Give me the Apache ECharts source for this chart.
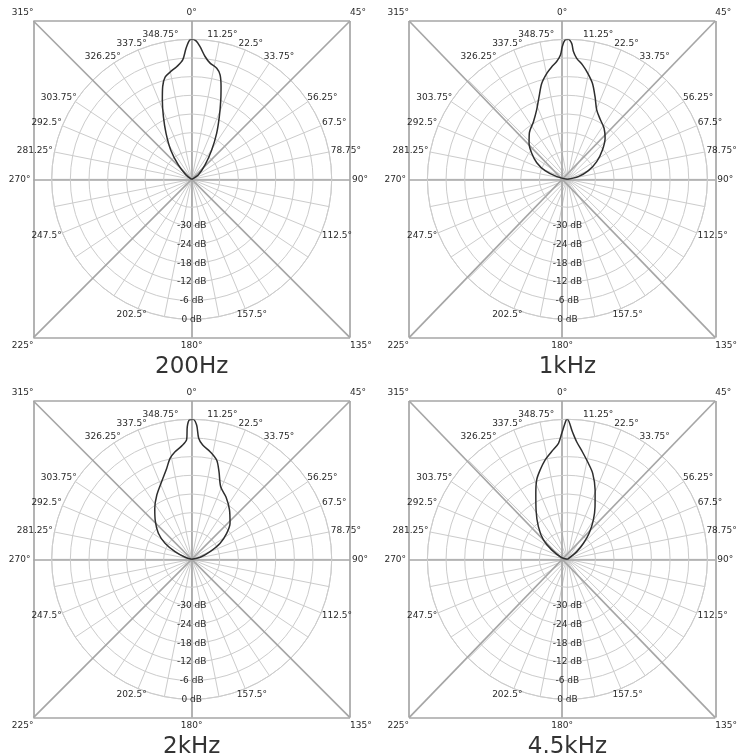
<!DOCTYPE html>
<html><head><meta charset="utf-8">
<script src="https://cdn.jsdelivr.net/npm/echarts@6/dist/echarts.min.js"></script>
<style>html,body{margin:0;padding:0;background:#fff}#c{width:740px;height:755px}</style>
</head><body><div id="c"></div><script>
// ---- data ----
const panelTitles = ['200Hz', '1kHz', '2kHz', '4.5kHz'];
const ringDb = [-36, -30, -24, -18, -12, -6, 0];
const dbLabelValues = [-30, -24, -18, -12, -6, 0];
const angleLabelValues = [11.25, 22.5, 33.75, 56.25, 67.5, 78.75, 112.5, 157.5, 202.5, 247.5, 281.25, 292.5, 303.75, 326.25, 337.5, 348.75];
const squareTopLabels = ['315°', '0°', '45°'];
const squareBottomLabels = ['225°', '180°', '135°'];
const squareLeftLabel = '270°';
const squareRightLabel = '90°';
const diagonalA = [[-1, -1], [1, 1]];
const diagonalB = [[-1, 1], [1, -1]];

const angles200 = [290, 307.4, 317, 324.4, 330.8, 335.7, 339.7, 342.6, 345.4, 349.6, 352.4, 355.7, 357.5, 359, 0, 1.8, 3.6, 6.2, 9.0, 12.7, 15.2, 17.6, 20.1, 23.8, 28.5, 34.3, 42.9, 57, 70];
const db200 = [-45, -42.7, -38.7, -33.4, -28.1, -22.9, -17.8, -13.8, -11.1, -9.5, -8.5, -6.5, -2.9, -0.4, 0, -0.5, -2.3, -5.3, -7.2, -8.4, -10.2, -13.8, -17.8, -23.0, -28.2, -33.6, -38.7, -42.5, -45];

const angles1k = [270, 284, 291.2, 298.5, 306.1, 313.2, 320.4, 329.5, 336.1, 341.1, 345, 349, 352.1, 354.8, 356.8, 357.8, 359, 0.3, 1.8, 2.7, 4.4, 7.5, 10.9, 14.6, 18.5, 22.9, 28.6, 35.7, 42.6, 50.0, 58.9, 67.6, 76.4, 90];
const db1k = [-45, -41.5, -37.3, -33.8, -30.8, -28.1, -25.8, -23.5, -20.6, -16.9, -13.1, -10.3, -8.5, -7.0, -5.0, -2.3, -0.2, 0, -1.3, -3.9, -6.0, -7.9, -10.3, -13.1, -17.0, -20.8, -23.0, -24.8, -27.1, -30.3, -34.0, -37.7, -41.4, -45];

const angles2k = [270, 287, 294.7, 301, 308, 316, 324, 331.5, 338.9, 344.6, 347.9, 351.2, 355, 357.6, 358.1, 359, 0.5, 2.1, 3.3, 5.5, 9.7, 14.1, 17.3, 21.8, 29, 37.4, 46.8, 53.4, 60.5, 67.3, 76.5, 90];
const db2k = [-45, -42.8, -39.1, -35.0, -31.4, -28.2, -24.8, -21.5, -18.2, -14.7, -11.8, -10.0, -8.4, -6.4, -2.3, -0.2, 0, -1.8, -6.0, -8.1, -9.9, -12.1, -15.5, -19.9, -22.2, -25.0, -28.1, -31.0, -34.5, -38.6, -42.2, -45];

const angles4k5 = [270, 286.4, 300.8, 308.9, 318.4, 327.6, 334.4, 338.9, 343, 347.3, 351.7, 355.6, 357.4, 359.5, 0, 2.2, 4.5, 7.9, 12.3, 16.4, 21.8, 27.7, 33.5, 39.8, 45, 50.6, 70];
const db4k5 = [-45, -43.1, -39.1, -35.1, -30.95, -26.2, -21.5, -17.6, -15.0, -12.3, -10.0, -7.6, -4.5, -0.2, 0, -3.9, -7.1, -10.1, -13.4, -16.2, -21.0, -25.9, -29.9, -34.1, -37.7, -41.1, -45];

const curves = [[angles200, db200], [angles1k, db1k], [angles2k, db2k], [angles4k5, db4k5]];

// ---- layout / style ----
const centers = [[191.7, 179.3], [567.4, 179.3], [191.7, 559.3], [567.4, 559.3]];
const R = 140, HALF = 158.3, DB_MIN = -45;
const FONT = 'DejaVu Sans';
const thin = { color: '#cccccc', width: 1 };
const thick = { color: '#a6a6a6', width: 1.7 };
const lab = { fontSize: 9, color: '#2a2a2a', fontFamily: FONT };

// angle labels: placed just outside the outer ring, offset by half the label box
const ctx = document.createElement('canvas').getContext('2d');
ctx.font = '9px ' + FONT;
function angleLabelItem(a) {
  const text = a + '°';
  const w = ctx.measureText(text).width;
  const t = a * Math.PI / 180;
  const s = Math.sin(t), c = Math.cos(t);
  const px = s * (R + w / 2 + 2), py = c * (R + 7);
  const d = Math.hypot(px, py);
  const ang = Math.atan2(px, py) * 180 / Math.PI;
  return { name: text, value: [DB_MIN + (-DB_MIN) * d / R, ang] };
}

const option = {
  animation: false,
  backgroundColor: '#fff',
  title: panelTitles.map((t, i) => ({
    text: t, left: centers[i][0], top: centers[i][1] + HALF + 18, textAlign: 'center', padding: 0,
    textStyle: { fontSize: 23, fontWeight: 'normal', color: '#333', fontFamily: FONT }
  })),
  polar: centers.map(c => ({ center: c, radius: R })),
  angleAxis: centers.map((c, i) => ({
    polarIndex: i, type: 'value', min: -180, max: 180, interval: 11.25, startAngle: -90, clockwise: true,
    axisLine: { show: true, lineStyle: thin }, axisTick: { show: false },
    splitLine: { show: true, lineStyle: thin },
    axisLabel: { show: false },
    z: 0
  })),
  radiusAxis: centers.map((c, i) => ({
    polarIndex: i, type: 'value', min: DB_MIN, max: 0,
    axisLine: { show: false }, axisTick: { show: false, customValues: ringDb },
    splitLine: { show: true, lineStyle: thin },
    axisLabel: Object.assign({ customValues: dbLabelValues, formatter: v => v + ' dB', margin: 0, align: 'center', verticalAlign: 'middle' }, lab),
    z: 1
  })),
  grid: centers.map(c => ({ left: c[0] - HALF, top: c[1] - HALF, width: 2 * HALF, height: 2 * HALF, show: false })),
  xAxis: centers.flatMap((c, i) => [
    { gridIndex: i, type: 'value', min: -1, max: 1, interval: 1, position: 'top', axisLine: { show: false }, axisTick: { show: false },
      splitLine: { show: true, lineStyle: thick },
      axisLabel: Object.assign({ margin: 4, formatter: v => squareTopLabels[v + 1], alignMinLabel: 'right', alignMaxLabel: 'left' }, lab), z: 0 },
    { gridIndex: i, type: 'value', min: -1, max: 1, interval: 1, position: 'bottom', axisLine: { show: false }, axisTick: { show: false },
      splitLine: { show: false },
      axisLabel: Object.assign({ margin: 4, formatter: v => squareBottomLabels[v + 1], alignMinLabel: 'right', alignMaxLabel: 'left' }, lab), z: 0 }
  ]),
  yAxis: centers.flatMap((c, i) => [
    { gridIndex: i, type: 'value', min: -1, max: 1, interval: 1, position: 'left', axisLine: { show: false }, axisTick: { show: false },
      splitLine: { show: true, lineStyle: thick },
      axisLabel: Object.assign({ margin: 3, formatter: v => v === 0 ? squareLeftLabel : '' }, lab), z: 0 },
    { gridIndex: i, type: 'value', min: -1, max: 1, interval: 1, position: 'right', axisLine: { show: false }, axisTick: { show: false },
      splitLine: { show: false },
      axisLabel: Object.assign({ margin: 2, formatter: v => v === 0 ? squareRightLabel : '' }, lab), z: 0 }
  ]),
  series: [
    ...centers.flatMap((c, i) => [diagonalA, diagonalB].map(d => ({
      type: 'line', xAxisIndex: 2 * i, yAxisIndex: 2 * i, data: d, showSymbol: false, symbol: 'none',
      lineStyle: thick, silent: true, z: 1
    }))),
    ...centers.map((c, i) => ({
      type: 'scatter', coordinateSystem: 'polar', polarIndex: i, clip: false, silent: true,
      data: angleLabelValues.map(angleLabelItem),
      symbolSize: 1, itemStyle: { color: 'rgba(0,0,0,0)' },
      label: Object.assign({ show: true, position: 'inside', align: 'center', verticalAlign: 'middle', opacity: 1, formatter: p => p.name }, lab),
      z: 4
    })),
    ...curves.map(([angs, dbs], i) => ({
      type: 'line', coordinateSystem: 'polar', polarIndex: i,
      data: angs.map((a, k) => [dbs[k], a]),
      showSymbol: false, symbol: 'none', smooth: 0.3,
      lineStyle: { color: '#2e2e2e', width: 1.5 }, z: 3, silent: true
    }))
  ]
};
echarts.init(document.getElementById('c')).setOption(option);
</script></body></html>
